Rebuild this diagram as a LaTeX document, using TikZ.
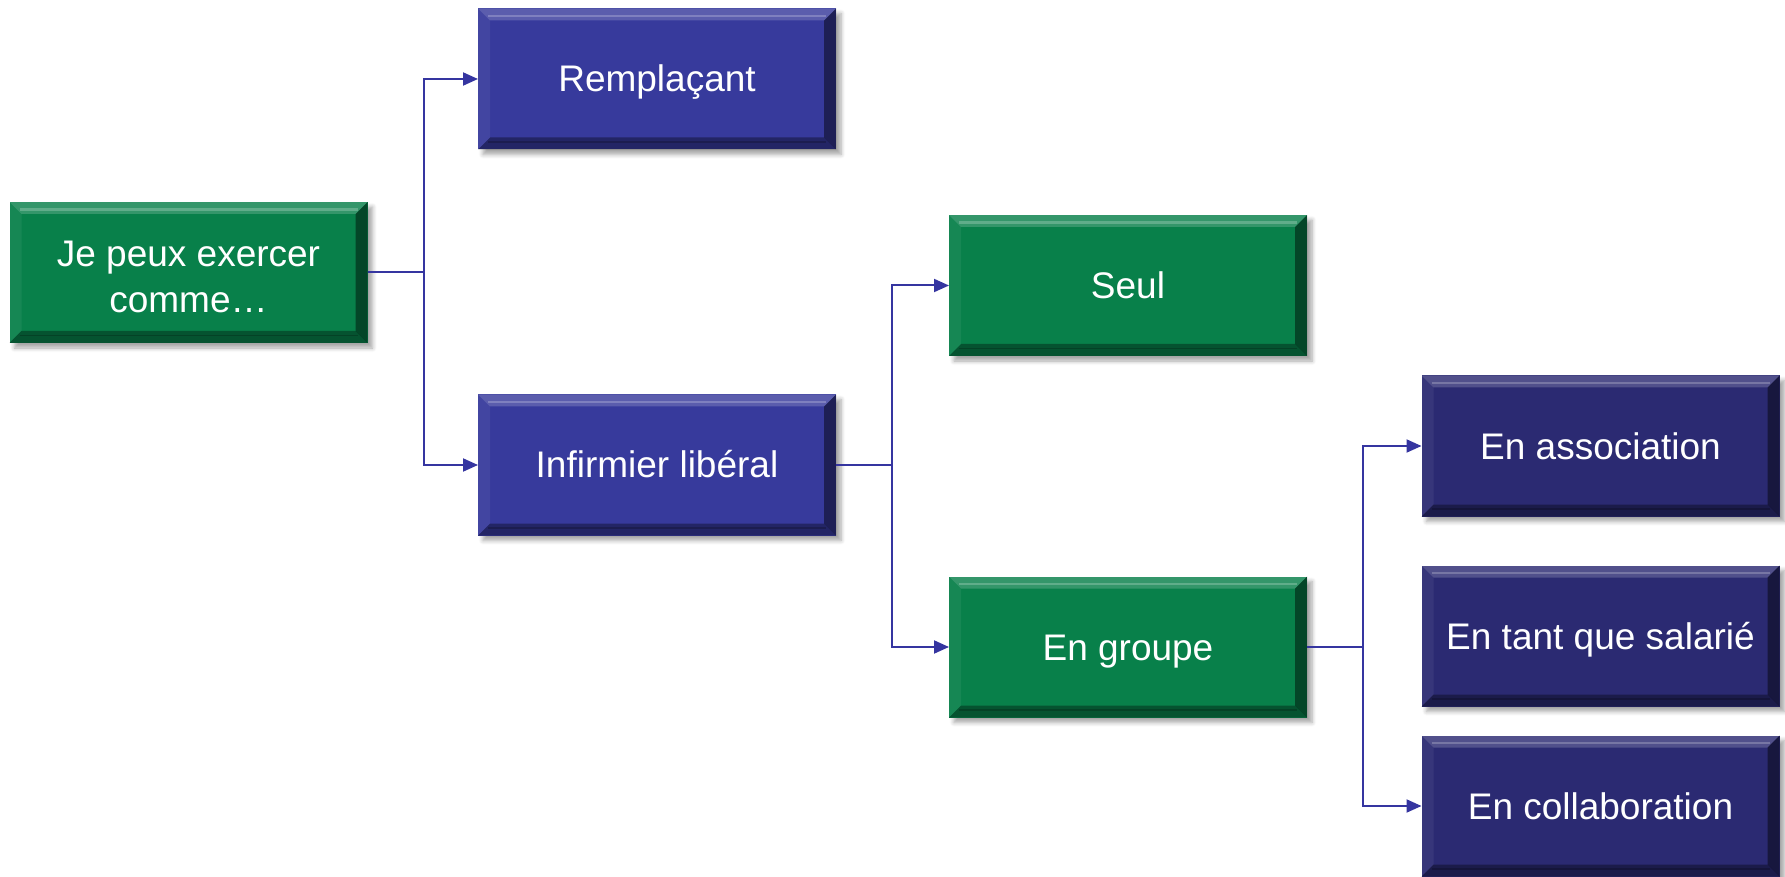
\documentclass[tikz,border=0pt]{standalone}
\usepackage{fontspec}
\setmainfont{Liberation Sans}
\usetikzlibrary{arrows.meta,shadows.blur}
\definecolor{cgreen}{HTML}{08804A}
\definecolor{cblue}{HTML}{373A9C}
\definecolor{cnavy}{HTML}{2B2A72}
\definecolor{cline}{HTML}{3535A0}
\tikzset{
  bevbox/.style={
    rectangle, fill=#1, draw=none, inner sep=0pt, outer sep=0pt,
    minimum width=179pt, minimum height=70.5pt,
    text=white, align=center,
    font=\fontsize{18.5}{22.8}\selectfont,
    blur shadow={shadow xshift=2.5pt, shadow yshift=-2.5pt, shadow blur steps=6, shadow opacity=35},
    path picture={
      \coordinate (SW) at (path picture bounding box.south west);
      \coordinate (NE) at (path picture bounding box.north east);
      \coordinate (NW) at (SW |- NE);
      \coordinate (SE) at (SW -| NE);
      % top bevel
      \fill[white,opacity=0.18] (NW) -- (NE) -- ([xshift=-6pt,yshift=-6pt]NE) -- ([xshift=6pt,yshift=-6pt]NW) -- cycle;
      \draw[white,opacity=0.22,line width=1.2pt] ([xshift=5pt,yshift=-3.8pt]NW) -- ([xshift=-5pt,yshift=-3.8pt]NE);
      % left bevel
      \fill[white,opacity=0.06] (NW) -- ([xshift=6pt,yshift=-6pt]NW) -- ([xshift=6pt,yshift=6pt]SW) -- (SW) -- cycle;
      % right bevel
      \fill[black,opacity=0.45] (NE) -- (SE) -- ([xshift=-6pt,yshift=6pt]SE) -- ([xshift=-6pt,yshift=-6pt]NE) -- cycle;
      % bottom bevel
      \fill[black,opacity=0.35] (SW) -- ([xshift=6pt,yshift=6pt]SW) -- ([xshift=-6pt,yshift=6pt]SE) -- (SE) -- cycle;
      \draw[black,opacity=0.2,line width=0.8pt] ([xshift=5pt,yshift=3.8pt]SW) -- ([xshift=-5pt,yshift=3.8pt]SE);
    }
  },
  oneline/.style={text height=17pt, text depth=4pt},
  conn/.style={draw=cline, line width=1pt},
  arr/.style={conn, -{Triangle[length=7.5pt,width=6.5pt]}}
}
\begin{document}
\begin{tikzpicture}[x=0.5pt,y=-0.5pt]
\useasboundingbox (0,0) rectangle (1785,877);
\node[bevbox=cgreen] (je)   at (188.5,272.5) {\rule{0pt}{17pt}Je peux exercer\\comme…};
\node[bevbox=cblue,oneline]  (rem)  at (657,79)      {Remplaçant};
\node[bevbox=cblue,oneline]  (inf)  at (657,465)     {Infirmier libéral};
\node[bevbox=cgreen,oneline] (seul) at (1128,285.5)  {Seul};
\node[bevbox=cgreen,oneline] (grp)  at (1128,647)    {En groupe};
\node[bevbox=cnavy,oneline]  (asso) at (1600.5,446)  {En association};
\node[bevbox=cnavy,oneline]  (sal)  at (1600.5,636)  {En tant que salarié};
\node[bevbox=cnavy,oneline]  (coll) at (1600.5,806)  {En collaboration};

\coordinate (b1) at ([xshift=28pt]je.east);
\coordinate (b2) at ([xshift=28pt]inf.east);
\coordinate (b3) at ([xshift=28pt]grp.east);

\draw[conn] (je.east) -- (b1);
\draw[arr] (b1) |- (rem.west);
\draw[arr] (b1) |- (inf.west);

\draw[conn] (inf.east) -- (b2);
\draw[arr] (b2) |- (seul.west);
\draw[arr] (b2) |- (grp.west);

\draw[conn] (grp.east) -- (b3);
\draw[arr] (b3) |- (asso.west);
\draw[arr] (b3) |- (coll.west);
\end{tikzpicture}
\end{document}
